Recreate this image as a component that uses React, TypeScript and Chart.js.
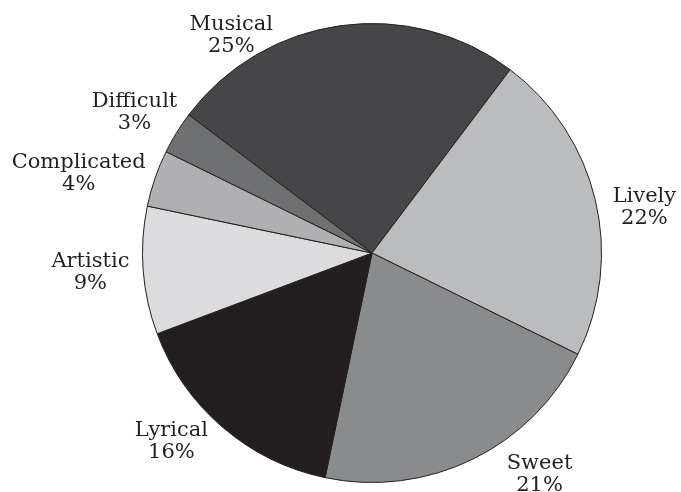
import React, { useEffect, useRef } from "react";
import { Chart, registerables } from "chart.js";

Chart.register(...registerables);

// Share of responses per descriptor, clockwise from the top-left
const categories = ["Musical", "Lively", "Sweet", "Lyrical", "Artistic", "Complicated", "Difficult"];
const shares = [25, 22, 21, 16, 9, 4, 3];
const sliceColors = ["#464648", "#bbbcbe", "#8a8b8d", "#231f20", "#dcdcde", "#b0b0b2", "#6f7072"];

// Label anchor (centre of the first line's baseline), relative to the pie centre, in radii
const labelOffsets: [number, number][] = [
  [-0.613, -0.97],
  [1.187, -0.223],
  [0.73, 0.939],
  [-0.874, 0.796],
  [-1.227, 0.062],
  [-1.278, -0.37],
  [-1.035, -0.636],
];

const FONT = '21px "DejaVu Serif", serif';
const LINE_GAP = 22;
const TEXT_COLOR = "#231f20";

const sliceLabels = {
  id: "sliceLabels",
  afterDatasetsDraw(chart: any) {
    const meta = chart.getDatasetMeta(0);
    const ctx: CanvasRenderingContext2D = chart.ctx;
    ctx.save();
    ctx.font = FONT;
    ctx.fillStyle = TEXT_COLOR;
    ctx.textAlign = "center";
    ctx.textBaseline = "alphabetic";
    meta.data.forEach((arc: any, i: number) => {
      const { x, y, outerRadius } = arc.getProps(["x", "y", "outerRadius"], true);
      const [ox, oy] = labelOffsets[i];
      const lx = x + ox * outerRadius;
      const ly = y + oy * outerRadius;
      ctx.fillText(categories[i], lx, ly);
      ctx.fillText(`${shares[i]}%`, lx, ly + LINE_GAP);
    });
    ctx.restore();
  },
};

export default function App() {
  const canvasRef = useRef<HTMLCanvasElement | null>(null);

  useEffect(() => {
    if (!canvasRef.current) return;
    const chart = new Chart(canvasRef.current, {
      type: "pie",
      data: {
        labels: categories,
        datasets: [
          {
            data: shares,
            backgroundColor: sliceColors,
            borderColor: "#231f20",
            borderWidth: 1,
          },
        ],
      },
      options: {
        responsive: false,
        animation: false,
        rotation: 307,
        layout: { padding: { left: 142, right: 79, top: 23, bottom: 9 } },
        plugins: {
          legend: { display: false },
          tooltip: { enabled: false },
        },
      },
      plugins: [sliceLabels],
    });
    return () => chart.destroy();
  }, []);

  return (
    <div style={{ position: "fixed", left: 0, top: 0, width: 681, height: 492, background: "#fff" }}>
      <canvas ref={canvasRef} width={681} height={492} />
    </div>
  );
}
